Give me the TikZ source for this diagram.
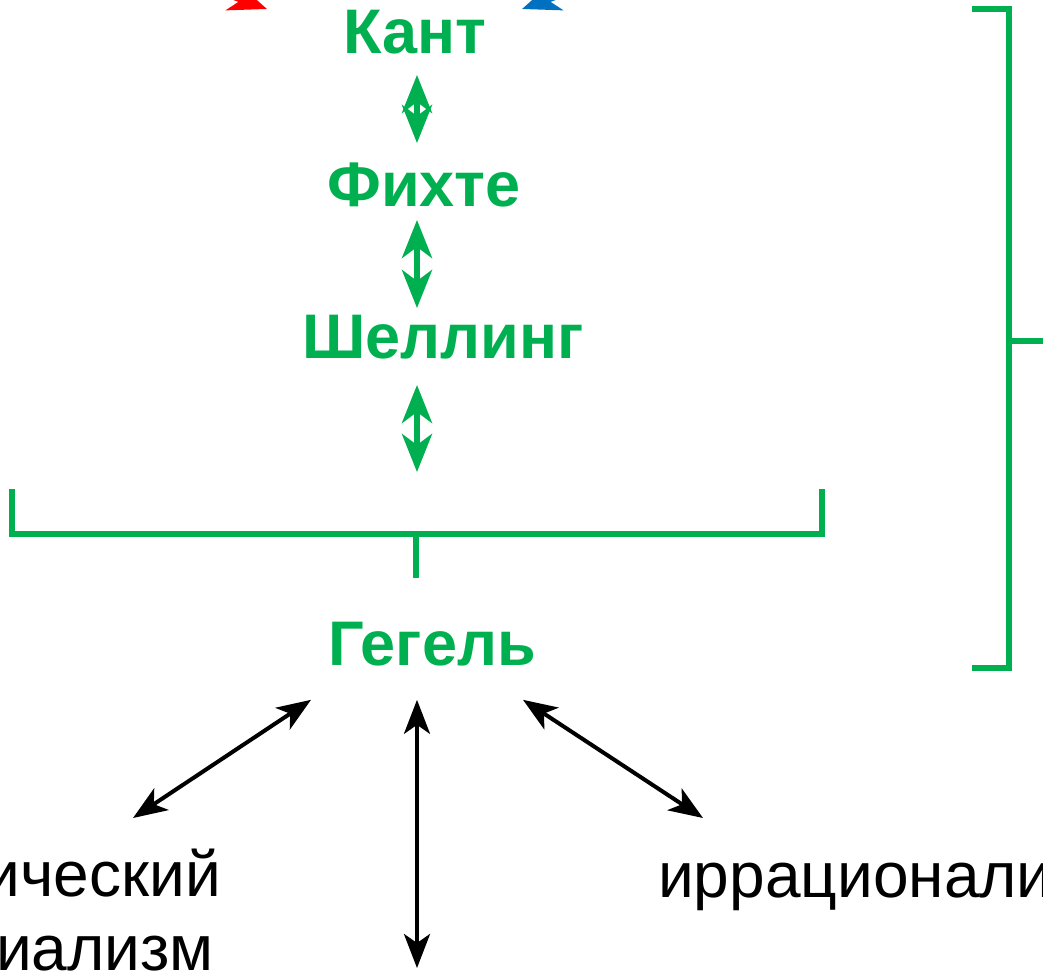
\documentclass[tikz,border=0pt]{standalone}
\usepackage{fontspec}
\setmainfont{Liberation Sans}
\usetikzlibrary{arrows.meta,positioning}
\definecolor{philgreen}{HTML}{00B050}
\definecolor{philred}{HTML}{FF0000}
\definecolor{philblue}{HTML}{0070C0}

\begin{document}
\begin{tikzpicture}[
    x=1pt, y=-1pt,
    thinker/.style={font=\fontsize{63}{63}\selectfont\bfseries, text=philgreen, inner sep=0pt, anchor=base},
    school/.style={font=\fontsize{64}{76}\selectfont, inner sep=0pt},
    garrow/.style={{Stealth[length=38pt, width=30pt, inset=11pt]}-{Stealth[length=38pt, width=30pt, inset=11pt]}, philgreen, line width=6pt},
    barrow/.style={{Stealth[length=34pt, width=26pt, inset=9pt]}-{Stealth[length=34pt, width=26pt, inset=9pt]}, black, line width=4pt},
    bracket/.style={philgreen, line width=5.5pt}
]
    \useasboundingbox (0,0) rectangle (1043,970);
    \clip (0,0) rectangle (1043,970);

    % German classics
    \node[thinker] (kant) at (415,53) {Кант};
    \node[thinker] (fichte) at (424,206) {Фихте};
    \node[thinker] (schelling) at (443,358) {Шеллинг};
    \node[thinker] (hegel) at (432,665) {Гегель};

    % schools after Hegel
    \node[school, anchor=base east] (dialmat) at (221,896) {ический};
    \node[school, anchor=base east] (histmat) at (214,970) {иализм};
    \node[school, anchor=base west] (irrat) at (658,897) {иррационали};

    % incoming arrows from above
    \coordinate (redfrom) at (79,-59);
    \coordinate (redto) at (267,9);
    \coordinate (bluefrom) at (710,-59);
    \coordinate (blueto) at (522,9);
    \draw[philred, line width=6pt, -{Stealth[length=38pt, width=30pt, inset=11pt]}] (redfrom) -- (redto);
    \draw[philblue, line width=6pt, -{Stealth[length=38pt, width=30pt, inset=11pt]}] (bluefrom) -- (blueto);

    \draw[garrow] ([xshift=2pt,yshift=-22pt]kant.base) -- ([xshift=-7pt,yshift=63pt]fichte.base);
    \draw[garrow] ([xshift=-7pt,yshift=-14pt]fichte.base) -- ([xshift=-26pt,yshift=50pt]schelling.base);

    % bracket under the three
    \coordinate (unionstem) at (416,534);
    \draw[bracket] (12,489) -- (12,534) -- (822,534) -- (822,489);
    \draw[bracket] (unionstem) -- (416,578);
    \draw[garrow] ([xshift=-26pt,yshift=-27pt]schelling.base) -- ([xshift=1pt,yshift=62pt]unionstem);

    % bracket on the right
    \draw[bracket] (972,9) -- (1009,9) -- (1009,668) -- (972,668);
    \draw[bracket] (1009,341) -- (1050,341);

    % Hegel to the schools
    \coordinate (dialtip) at (133,818);
    \coordinate (downtip) at (417,968);
    \coordinate (irrtip) at (703,818);
    \draw[barrow] ([shift={(-121,34)}]hegel.south) -- (dialtip);
    \draw[barrow] ([shift={(-15,34)}]hegel.south) -- (downtip);
    \draw[barrow] ([shift={(91,34)}]hegel.south) -- (irrtip);
\end{tikzpicture}
\end{document}
